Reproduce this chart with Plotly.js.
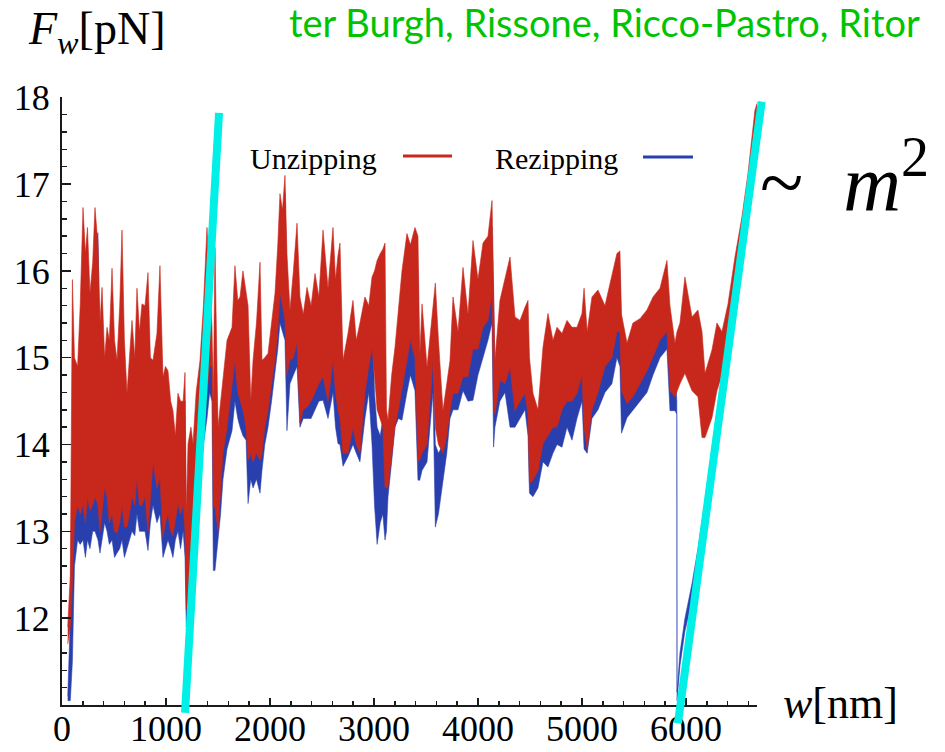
<!DOCTYPE html>
<html>
<head>
<meta charset="utf-8">
<script src="https://cdn.plot.ly/plotly-3.0.1.min.js"></script>
<style>html,body{margin:0;padding:0;background:#fff;}#chart{width:945px;height:752px;}</style>
</head>
<body>
<div id="chart"></div>
<script>
// extension w [nm]
const w = [
  55, 80, 100, 120, 150, 175, 202, 225, 245, 269,
  295, 317, 346, 365, 385, 410, 433, 455, 481, 505,
  529, 555, 577, 600, 625, 650, 673, 700, 721, 745,
  769, 798, 827, 850, 875, 913, 942, 971, 995, 1019,
  1045, 1067, 1090, 1115, 1140, 1165, 1183, 1195, 1212, 1240,
  1260, 1290, 1327, 1360, 1394, 1420, 1442, 1455, 1471, 1500,
  1525, 1548, 1587, 1635, 1663, 1690, 1712, 1740, 1770, 1789,
  1815, 1837, 1870, 1904, 1923, 1950, 1981, 2015, 2048, 2075,
  2096, 2120, 2144, 2163, 2192, 2225, 2260, 2288, 2320, 2356,
  2395, 2433, 2470, 2510, 2558, 2606, 2630, 2654, 2673, 2702,
  2750, 2798, 2830, 2865, 2913, 2950, 2981, 3005, 3030, 3060,
  3085, 3106, 3120, 3135, 3170, 3202, 3235, 3269, 3317, 3350,
  3394, 3423, 3440, 3462, 3510, 3567, 3590, 3620, 3663, 3700,
  3731, 3760, 3808, 3856, 3904, 3952, 4000, 4048, 4096, 4135,
  4150, 4163, 4211, 4260, 4308, 4356, 4404, 4452, 4481, 4495,
  4529, 4577, 4625, 4673, 4721, 4760, 4808, 4856, 4904, 4952,
  5000, 5020, 5050, 5096, 5154, 5221, 5288, 5336, 5365, 5380,
  5433, 5490, 5558, 5625, 5683, 5750, 5817, 5846, 5894, 5912,
  5914, 5942, 5990, 6058, 6115, 6154, 6183, 6250, 6298, 6346,
  6404, 6471, 6538, 6596, 6663, 6690
];
// Unzipping force envelope (upper / lower) [pN]
const unzipHi = [
  11.9, 12.5, 15.9, 15.0, 14.9, 15.6, 16.73, 16.2, 16.5, 15.74,
  16.1, 16.73, 16.3, 15.4, 15.81, 15.0, 15.35, 15.2, 16.03, 15.2,
  14.97, 15.6, 16.47, 15.2, 14.59, 15.0, 15.43, 15.0, 15.8, 15.3,
  15.62, 15.6, 15.98, 15.0, 14.97, 15.28, 16.06, 14.78, 14.9, 14.85,
  14.5, 14.39, 14.1, 14.59, 14.5, 14.5, 14.83, 13.2, 14.01, 14.2,
  14.01, 14.6, 14.97, 15.6, 16.5, 15.9, 15.35, 14.5, 16.27, 14.2,
  14.5, 14.78, 15.2, 15.35, 16.06, 15.66, 15.7, 16.0, 15.74, 15.6,
  14.5, 14.97, 15.4, 16.1, 14.97, 15.0, 15.05, 15.4, 15.74, 16.3,
  16.89, 16.7, 17.1, 16.2, 15.55, 16.0, 16.55, 15.7, 15.5, 15.81,
  15.6, 15.97, 15.7, 16.47, 15.8, 16.5, 15.9, 16.18, 16.32, 14.97,
  15.28, 15.66, 15.2, 15.4, 15.7, 15.6, 15.93, 16.0, 16.12, 16.2,
  16.25, 16.32, 14.4, 14.28, 14.8, 15.12, 15.6, 16.0, 16.43, 16.3,
  16.5, 16.4, 15.0, 15.62, 14.89, 15.55, 15.86, 15.2, 14.39, 14.7,
  14.97, 15.7, 15.3, 16.04, 15.5, 16.35, 15.9, 16.32, 16.4, 16.81,
  16.0, 14.97, 15.66, 15.93, 16.16, 15.47, 15.43, 15.58, 15.66, 15.0,
  14.59, 14.4, 15.12, 15.51, 15.2, 15.35, 15.28, 15.43, 15.35, 15.35,
  15.51, 15.8, 15.3, 15.7, 15.78, 15.6, 15.93, 16.2, 16.23, 15.5,
  15.17, 15.4, 15.45, 15.55, 15.7, 15.8, 16.12, 15.6, 15.17, 15.3,
  15.3, 15.4, 15.93, 15.47, 15.55, 15.3, 14.82, 15.09, 15.4, 15.3,
  15.62, 16.16, 16.62, 17.12, 17.85, 17.95
];
const unzipLo = [
  11.7, 11.9, 12.4, 13.1, 13.3, 13.2, 13.3, 13.1, 13.4, 13.24,
  13.3, 13.4, 13.3, 13.0, 13.24, 13.5, 13.4, 13.1, 13.2, 13.0,
  12.98, 13.1, 13.3, 13.05, 13.05, 13.2, 13.4, 13.3, 13.62, 13.3,
  13.3, 13.4, 13.0, 13.4, 13.8, 13.5, 13.62, 12.93, 13.1, 13.2,
  13.0, 12.95, 13.1, 13.32, 13.2, 13.3, 13.0, 12.1, 12.36, 12.6,
  13.0, 13.3, 13.82, 14.2, 14.59, 14.9, 14.9, 13.28, 13.28, 13.0,
  13.5, 13.9, 14.2, 14.66, 14.97, 14.6, 14.5, 14.4, 14.2, 13.82,
  13.9, 13.8, 13.9, 13.82, 13.9, 14.2, 14.39, 14.7, 14.97, 15.3,
  15.74, 15.6, 15.43, 14.8, 14.97, 15.0, 15.17, 14.25, 14.4, 14.43,
  14.5, 14.6, 14.7, 14.78, 14.5, 14.97, 14.6, 14.4, 14.3, 13.9,
  13.9, 14.2, 14.0, 13.9, 14.59, 14.9, 15.12, 14.8, 14.4, 14.3,
  14.2, 13.51, 13.5, 13.51, 13.9, 14.2, 14.4, 14.59, 14.97, 15.2,
  15.0, 13.82, 13.82, 13.9, 14.0, 14.97, 14.2, 14.0, 13.9, 14.1,
  14.39, 14.59, 14.59, 14.78, 14.78, 15.1, 15.1, 15.35, 15.43, 15.74,
  14.39, 14.35, 14.74, 14.7, 14.89, 14.39, 14.5, 14.59, 14.35, 13.55,
  13.59, 13.7, 14.01, 14.1, 14.2, 14.2, 14.4, 14.5, 14.5, 14.59,
  14.8, 14.2, 13.95, 14.4, 14.6, 14.9, 15.0, 15.3, 15.3, 14.62,
  14.47, 14.55, 14.7, 14.85, 15.0, 15.2, 15.3, 14.62, 14.55, 14.6,
  14.6, 14.7, 14.82, 14.62, 14.55, 14.08, 14.08, 14.31, 14.62, 14.8,
  15.09, 15.7, 16.3, 16.9, 17.5, 17.8
];
// Rezipping force envelope (upper / lower) [pN]
const rezipHi = [
  11.1, 12.0, 14.0, 14.5, 14.6, 15.0, 16.0, 15.8, 15.9, 15.3,
  15.8, 16.3, 16.44, 15.0, 15.3, 14.8, 15.0, 14.9, 15.6, 14.8,
  14.7, 15.2, 15.8, 14.9, 14.4, 14.7, 15.0, 14.8, 15.4, 15.0,
  15.2, 15.2, 15.5, 14.8, 14.6, 15.0, 15.6, 14.5, 14.6, 14.6,
  14.2, 14.2, 13.9, 14.3, 14.2, 14.2, 14.5, 12.9, 13.5, 13.8,
  13.8, 14.3, 14.6, 15.2, 16.0, 15.6, 15.0, 14.0, 15.5, 13.9,
  14.2, 14.5, 14.9, 15.1, 15.6, 15.4, 15.4, 15.6, 15.4, 15.2,
  14.2, 14.6, 15.0, 15.5, 14.7, 14.8, 14.8, 15.1, 15.5, 16.0,
  16.6, 16.4, 16.9, 15.9, 15.3, 15.7, 16.2, 15.4, 15.2, 15.5,
  15.3, 15.6, 15.4, 16.1, 15.5, 16.1, 15.6, 15.8, 15.9, 14.7,
  15.0, 15.3, 15.0, 15.1, 15.4, 15.3, 15.6, 14.6, 14.2, 14.1,
  14.3, 14.0, 14.0, 14.0, 14.5, 14.9, 15.3, 15.7, 16.1, 16.0,
  16.2, 16.0, 14.7, 15.3, 14.7, 15.2, 14.0, 13.9, 14.0, 14.5,
  14.8, 15.4, 15.0, 15.7, 15.2, 16.0, 15.6, 16.0, 16.1, 16.5,
  15.7, 14.7, 15.3, 15.6, 15.8, 15.2, 15.2, 15.3, 15.3, 14.7,
  14.3, 14.2, 14.8, 15.2, 15.0, 15.1, 15.0, 15.2, 15.1, 15.1,
  15.2, 15.5, 15.0, 15.4, 15.5, 15.3, 15.6, 15.9, 16.0, 15.2,
  14.9, 15.1, 15.2, 15.3, 15.4, 15.5, 15.8, 15.3, 14.9, 14.5,
  11.15, 11.6, 12.0, 12.4, 12.8, 13.1, 13.35, 13.95, 14.35, 14.8,
  15.3, 15.9, 16.5, 17.0, 17.7, 17.95
];
const rezipLo = [
  11.05, 11.05, 11.5, 12.6, 12.9, 12.85, 12.9, 12.7, 12.9, 12.8,
  13.0, 13.0, 12.9, 12.75, 12.9, 13.1, 13.0, 12.85, 12.9, 12.7,
  12.75, 12.8, 12.9, 12.7, 12.8, 12.9, 13.0, 12.95, 13.2, 13.0,
  13.0, 13.0, 12.78, 13.1, 13.3, 13.1, 13.2, 12.7, 12.8, 12.9,
  12.8, 12.7, 12.9, 13.0, 12.8, 13.0, 12.7, 11.9, 12.2, 12.4,
  12.8, 13.0, 13.5, 14.0, 14.3, 14.6, 14.5, 12.55, 12.55, 12.86,
  13.2, 13.6, 13.95, 14.16, 14.5, 14.3, 14.2, 14.1, 14.05, 13.32,
  13.6, 13.5, 13.6, 13.44, 13.7, 14.0, 14.2, 14.5, 14.8, 15.1,
  15.4, 15.3, 15.2, 14.16, 14.7, 14.8, 14.9, 14.2, 14.3, 14.3,
  14.3, 14.4, 14.5, 14.51, 14.3, 14.6, 14.2, 14.01, 14.0, 13.75,
  13.86, 14.0, 13.9, 13.8, 14.3, 14.6, 14.0, 13.3, 12.85, 13.1,
  13.2, 12.9, 13.0, 13.4, 13.8, 14.2, 14.3, 14.28, 14.6, 14.8,
  14.62, 13.59, 13.59, 13.7, 13.8, 14.6, 13.05, 13.2, 13.6, 13.9,
  14.3, 14.4, 14.4, 14.62, 14.5, 14.51, 14.8, 15.0, 15.2, 15.4,
  13.97, 14.2, 14.5, 14.6, 14.2, 14.2, 14.3, 14.4, 14.1, 13.44,
  13.4, 13.5, 13.8, 13.74, 13.9, 14.0, 13.97, 14.2, 14.05, 14.3,
  14.5, 13.95, 13.9, 14.3, 14.4, 14.6, 14.7, 15.0, 14.9, 14.13,
  14.31, 14.4, 14.5, 14.6, 14.8, 15.0, 15.1, 14.39, 14.39, 14.35,
  11.05, 11.45, 11.85, 12.2, 12.55, 12.85, 13.1, 13.7, 14.1, 14.5,
  15.0, 15.55, 16.1, 16.7, 17.4, 17.75
];
// guide lines (~ m^2 growth)
const guide1W = [1183, 1510];
const guide1F = [10.91, 17.82];
const guide2W = [5923, 6728];
const guide2F = [10.79, 17.95];

const xTickVals = [0, 1000, 2000, 3000, 4000, 5000, 6000];
const yTickVals = [12, 13, 14, 15, 16, 17, 18];

const W = 945, H = 752;
const xDom = [62 / W, 757 / W];
const yDom = [47 / H, 655 / H];
const xRange = [0, 6683];
const yRange = [11.0, 18.003];

function extend(dom, rng) {
  const s = (rng[1] - rng[0]) / (dom[1] - dom[0]);
  return [rng[0] - dom[0] * s, rng[0] + (1 - dom[0]) * s];
}

function band(x, hi, lo, color, edge) {
  return {
    type: 'scatter', mode: 'lines',
    x: x.concat(x.slice().reverse()),
    y: hi.concat(lo.slice().reverse()),
    fill: 'toself', fillcolor: color,
    line: {color: edge, width: 1},
    hoverinfo: 'skip', showlegend: false, xaxis: 'x', yaxis: 'y'
  };
}

const red = '#c8281c';
const blue = '#2a3fae';
const cyan = '#00efe6';
const serif = 'Liberation Serif, Times New Roman, serif';

const traces = [
  band(w, rezipHi, rezipLo, blue, 'rgba(42,63,174,0.55)'),
  band(w, unzipHi, unzipLo, red, 'rgba(200,40,28,0.6)'),
  {type: 'scatter', mode: 'lines', x: guide1W, y: guide1F, xaxis: 'x2', yaxis: 'y2',
   line: {color: cyan, width: 8}, showlegend: false, hoverinfo: 'skip'},
  {type: 'scatter', mode: 'lines', x: guide2W, y: guide2F, xaxis: 'x2', yaxis: 'y2',
   line: {color: cyan, width: 8}, showlegend: false, hoverinfo: 'skip'}
];

const axisCommon = {
  showline: true, linecolor: '#1a1a1a', linewidth: 2,
  ticks: 'inside', tickcolor: '#1a1a1a', tickwidth: 1.5,
  showgrid: false, zeroline: false, fixedrange: true,
  tickfont: {family: serif, size: 36, color: '#000'}
};

const layout = {
  width: W, height: H,
  margin: {l: 0, r: 0, t: 0, b: 0},
  paper_bgcolor: '#fff', plot_bgcolor: 'rgba(0,0,0,0)',
  showlegend: false,
  xaxis: Object.assign({}, axisCommon, {
    domain: xDom, range: xRange, anchor: 'y',
    tickmode: 'array', tickvals: xTickVals, ticktext: xTickVals.map(String),
    ticklen: 7, ticklabelstandoff: -9,
    minor: {ticks: 'inside', dtick: 200, tick0: 0, ticklen: 4, tickwidth: 1.5, tickcolor: '#1a1a1a', showgrid: false}
  }),
  yaxis: Object.assign({}, axisCommon, {
    domain: yDom, range: yRange, anchor: 'x',
    tickmode: 'array', tickvals: yTickVals, ticktext: yTickVals.map(String),
    ticklen: 9, ticklabelstandoff: 3,
    minor: {ticks: 'inside', dtick: 0.2, tick0: 0, ticklen: 5, tickwidth: 1.5, tickcolor: '#1a1a1a', showgrid: false}
  }),
  xaxis2: {domain: [0, 1], range: extend(xDom, xRange), anchor: 'y2', visible: false, fixedrange: true},
  yaxis2: {domain: [0, 1], range: extend(yDom, yRange), anchor: 'x2', visible: false, fixedrange: true},
  shapes: [
    {type: 'line', xref: 'paper', yref: 'paper', x0: 403 / W, x1: 452 / W, y0: 1 - 156 / H, y1: 1 - 156 / H,
     line: {color: red, width: 3}},
    {type: 'line', xref: 'paper', yref: 'paper', x0: 643 / W, x1: 693 / W, y0: 1 - 157 / H, y1: 1 - 157 / H,
     line: {color: blue, width: 3}}
  ],
  annotations: [
    {xref: 'paper', yref: 'paper', x: 287 / W, y: 1, xanchor: 'left', yanchor: 'top', yshift: 3,
     showarrow: false, text: 'ter Burgh, Rissone, Ricco-Pastro, Ritor',
     font: {family: 'Lato, Open Sans, sans-serif', size: 38, color: '#00c400'}},
    {xref: 'paper', yref: 'paper', x: 26 / W, y: 1 - 32 / H, xanchor: 'left', yanchor: 'middle',
     showarrow: false, text: '<i>F</i><sub><i>w</i></sub>[pN]', font: {family: serif, size: 46, color: '#000'}},
    {xref: 'paper', yref: 'paper', x: 781 / W, y: 1 - 703 / H, xanchor: 'left', yanchor: 'middle',
     showarrow: false, text: '<i>w</i>[nm]', font: {family: serif, size: 44, color: '#000'}},
    {xref: 'paper', yref: 'paper', x: 758 / W, y: 1 - 176 / H, xanchor: 'left', yanchor: 'middle',
     showarrow: false, text: '~\u2002<i>m</i><sup>2</sup>', font: {family: serif, size: 80, color: '#000'}},
    {xref: 'paper', yref: 'paper', x: 248 / W, y: 1 - 158 / H, xanchor: 'left', yanchor: 'middle',
     showarrow: false, text: 'Unzipping', font: {family: serif, size: 30, color: '#000'}},
    {xref: 'paper', yref: 'paper', x: 493 / W, y: 1 - 158 / H, xanchor: 'left', yanchor: 'middle',
     showarrow: false, text: 'Rezipping', font: {family: serif, size: 30, color: '#000'}}
  ]
};

Plotly.newPlot('chart', traces, layout, {staticPlot: true, displayModeBar: false});
</script>
</body>
</html>
